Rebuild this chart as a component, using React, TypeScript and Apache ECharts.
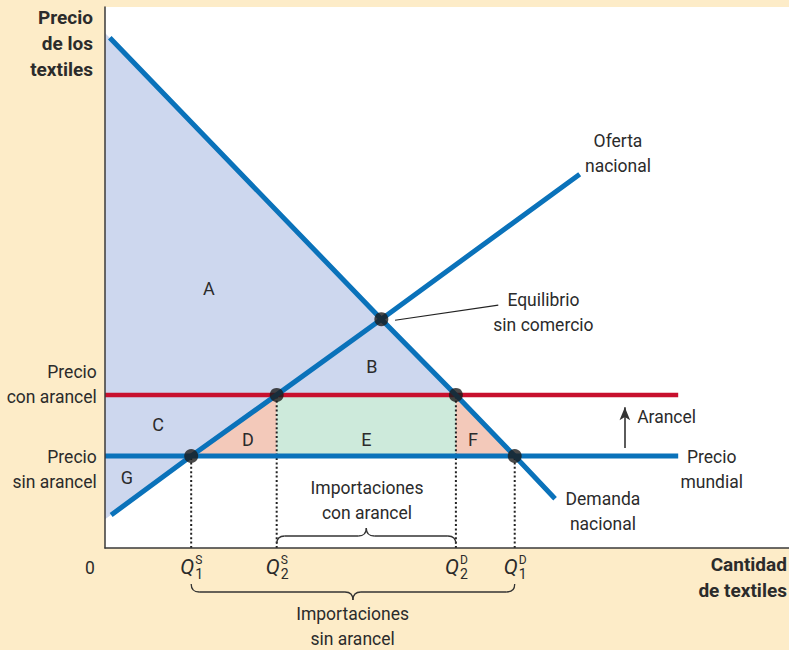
import React, { useEffect, useRef } from 'react';
import * as echarts from 'echarts';

// ---- Prices (vertical axis, 0..100) ----
const worldPrice = 17.0;
const tariffPrice = 28.3;
const equilibriumPrice = 42.3;

// ---- Quantities (horizontal axis, 0..100) ----
const q1S = 12.6;
const q2S = 25.1;
const qEq = 40.4;
const q2D = 51.3;
const q1D = 59.9;

// ---- Curves ----
const supplyCurve = [[0.9, 6.1], [q1S, worldPrice], [q2S, tariffPrice], [qEq, equilibriumPrice], [69.4, 69.1]];
const demandCurve = [[0.7, 94.3], [qEq, equilibriumPrice], [q2D, tariffPrice], [q1D, worldPrice], [65.8, 9.1]];
const priceLineEnd = 83.8;
const worldPriceLine = [[0, worldPrice], [priceLineEnd, worldPrice]];
const tariffPriceLine = [[0, tariffPrice], [priceLineEnd, tariffPrice]];
const demandAtZero = 95.2;
const supplyAtZero = 5.3;

// ---- Regions ----
const regionBlue = [[0, demandAtZero], [q2D, tariffPrice], [q2S, tariffPrice], [0, supplyAtZero]];
const regionD = [[q1S, worldPrice], [q2S, tariffPrice], [q2S, worldPrice]];
const regionE = [[q2S, tariffPrice], [q2D, tariffPrice], [q2D, worldPrice], [q2S, worldPrice]];
const regionF = [[q2D, tariffPrice], [q1D, worldPrice], [q2D, worldPrice]];

// ---- Marks ----
const keyPoints = [[q1S, worldPrice], [q2S, tariffPrice], [qEq, equilibriumPrice], [q2D, tariffPrice], [q1D, worldPrice]];
const dropLines = [[q1S, worldPrice], [q2S, tariffPrice], [q2D, tariffPrice], [q1D, worldPrice]];
const equilibriumLeader = [[42.4, 42.1], [57.5, 44.9]];
const tariffArrow = [[76.0, 18.5], [76.0, 26.0]];

// ---- Tick labels ----
const qLabels = [
  { q: q1S, sub: '1', sup: 'S' },
  { q: q2S, sub: '2', sup: 'S' },
  { q: q2D, sub: '2', sup: 'D' },
  { q: q1D, sub: '1', sup: 'D' },
];

const braces = [
  { from: q1S, to: q1D, side: 'below' },
  { from: q2S, to: q2D, side: 'above' },
];

const regionLetters = [
  { q: 15.2, p: 47.9, text: 'A' },
  { q: 39.0, p: 33.6, text: 'B' },
  { q: 7.75, p: 22.9, text: 'C' },
  { q: 20.9, p: 20.1, text: 'D' },
  { q: 38.2, p: 20.1, text: 'E' },
  { q: 53.8, p: 20.1, text: 'F' },
  { q: 3.2, p: 13.1, text: 'G' },
];

const annotations = [
  { q: 75.0, p: 73.0, text: 'Oferta\nnacional', align: 'center' },
  { q: 64.1, p: 43.5, text: 'Equilibrio\nsin comercio', align: 'center' },
  { q: 72.8, p: 6.75, text: 'Demanda\nnacional', align: 'center' },
  { q: 88.7, p: 14.6, text: 'Precio\nmundial', align: 'center' },
  { q: 77.8, p: 24.2, text: 'Arancel', align: 'left' },
  { q: 38.3, p: 8.8, text: 'Importaciones\ncon arancel', align: 'center' },
  { q: 36.2, p: -14.5, text: 'Importaciones\nsin arancel', align: 'center' },
  { q: -1.2, p: 30.3, text: 'Precio\ncon arancel', align: 'right' },
  { q: -1.2, p: 14.6, text: 'Precio\nsin arancel', align: 'right' },
  { q: -2.2, p: -3.7, text: '0', align: 'center' },
];

const axisTitles = [
  { q: -1.75, p: 93.3, text: 'Precio\nde los\ntextiles', align: 'right' },
  { q: 99.7, p: -5.4, text: 'Cantidad\nde textiles', align: 'right' },
];

const BLUE = '#0a72ba';
const RED = '#c8102e';
const TEXT = '#2b2b2b';
const FONT = 'Roboto';

const regions = [
  { points: regionBlue, color: '#cdd7ee' },
  { points: regionD, color: '#f3c9ba' },
  { points: regionE, color: '#cdeadb' },
  { points: regionF, color: '#f3c9ba' },
];

function textSeries(items: any[], size: number, weight: string, lineHeight: number, z: number) {
  return {
    type: 'custom',
    silent: true,
    clip: false,
    z,
    data: items.map((a) => [a.q, a.p]),
    renderItem: (params: any, api: any) => {
      const a = items[params.dataIndex];
      const pt = api.coord([a.q, a.p]);
      return {
        type: 'text',
        x: pt[0],
        y: pt[1],
        style: {
          text: a.text,
          fill: TEXT,
          fontSize: size,
          fontFamily: FONT,
          fontWeight: weight,
          align: a.align || 'center',
          verticalAlign: 'middle',
          lineHeight,
        },
      };
    },
  };
}

export default function App() {
  const ref = useRef<HTMLDivElement>(null);

  useEffect(() => {
    if (!ref.current) return;
    const chart = echarts.init(ref.current, null, { renderer: 'svg' });

    const axisCommon = {
      type: 'value',
      min: 0,
      max: 100,
      z: 10,
      axisLine: { show: true, onZero: false, lineStyle: { color: '#3a3a3a', width: 1.5 } },
      axisTick: { show: false },
      axisLabel: { show: false },
      splitLine: { show: false },
    };

    const dropSeries = dropLines.map((p) => ({
      type: 'line',
      silent: true,
      symbol: 'none',
      z: 3,
      data: [[p[0], 0], [p[0], p[1]]],
      lineStyle: { color: '#222', width: 2, type: [2, 2.4] },
    }));

    const option: any = {
      animation: false,
      backgroundColor: '#fdecc8',
      grid: { left: 105, right: 0, top: 7, bottom: 102, show: true, backgroundColor: '#ffffff', borderWidth: 0 },
      xAxis: axisCommon,
      yAxis: axisCommon,
      series: [
        {
          type: 'custom',
          silent: true,
          clip: false,
          z: 1,
          data: regions.map((_, i) => [i, 0]),
          renderItem: (params: any, api: any) => {
            const r = regions[params.dataIndex];
            return {
              type: 'polygon',
              shape: { points: r.points.map((p) => api.coord(p)) },
              style: { fill: r.color },
            };
          },
        },
        ...dropSeries,
        {
          type: 'line',
          silent: true,
          symbol: 'none',
          z: 4,
          data: worldPriceLine,
          lineStyle: { color: BLUE, width: 5 },
          markLine: {
            silent: true,
            animation: false,
            symbol: ['none', 'arrow'],
            symbolSize: [8, 13],
            label: { show: false },
            lineStyle: { color: '#333', width: 1.6, type: 'solid' },
            emphasis: { disabled: true },
            data: [[{ coord: tariffArrow[0] }, { coord: tariffArrow[1] }]],
          },
        },
        {
          type: 'line',
          silent: true,
          symbol: 'none',
          z: 4,
          data: tariffPriceLine,
          lineStyle: { color: RED, width: 4.5 },
        },
        {
          type: 'line',
          silent: true,
          symbol: 'none',
          z: 5,
          data: supplyCurve,
          lineStyle: { color: BLUE, width: 5 },
        },
        {
          type: 'line',
          silent: true,
          symbol: 'none',
          z: 5,
          data: demandCurve,
          lineStyle: { color: BLUE, width: 5 },
        },
        {
          type: 'line',
          silent: true,
          symbol: 'none',
          z: 5,
          data: equilibriumLeader,
          lineStyle: { color: '#222', width: 1.2 },
        },
        {
          type: 'scatter',
          silent: true,
          z: 6,
          symbol: 'circle',
          symbolSize: 14,
          itemStyle: { color: '#1b1b1b' },
          data: keyPoints,
        },
        {
          type: 'custom',
          silent: true,
          clip: false,
          z: 6,
          data: braces.map((b) => [b.from, 0]),
          renderItem: (params: any, api: any) => {
            const b = braces[params.dataIndex];
            const p1 = api.coord([b.from, 0]);
            const p2 = api.coord([b.to, 0]);
            const x1 = p1[0];
            const x2 = p2[0];
            const axisY = p1[1];
            const d = b.side === 'below' ? 1 : -1;
            const y0 = b.side === 'below' ? axisY + 36 : axisY - 4;
            const r = 8;
            const yh = y0 + d * r;
            const yt = y0 + 2 * d * r;
            const xm = (x1 + x2) / 2;
            const style = { stroke: '#333', lineWidth: 1.3, fill: 'none' };
            return {
              type: 'group',
              children: [
                { type: 'bezierCurve', shape: { x1: x1, y1: y0, cpx1: x1, cpy1: yh, x2: x1 + r, y2: yh }, style },
                { type: 'line', shape: { x1: x1 + r, y1: yh, x2: xm - r, y2: yh }, style },
                { type: 'bezierCurve', shape: { x1: xm - r, y1: yh, cpx1: xm, cpy1: yh, x2: xm, y2: yt }, style },
                { type: 'bezierCurve', shape: { x1: xm, y1: yt, cpx1: xm, cpy1: yh, x2: xm + r, y2: yh }, style },
                { type: 'line', shape: { x1: xm + r, y1: yh, x2: x2 - r, y2: yh }, style },
                { type: 'bezierCurve', shape: { x1: x2 - r, y1: yh, cpx1: x2, cpy1: yh, x2: x2, y2: y0 }, style },
              ],
            };
          },
        },
        {
          type: 'custom',
          silent: true,
          clip: false,
          z: 7,
          data: qLabels.map((l) => [l.q, 0]),
          renderItem: (params: any, api: any) => {
            const l = qLabels[params.dataIndex];
            const pt = api.coord([l.q, 0]);
            const x = pt[0];
            const y = pt[1];
            const base = { fill: TEXT, fontFamily: FONT, verticalAlign: 'middle' };
            return {
              type: 'group',
              children: [
                { type: 'text', x: x - 4, y: y + 19, style: { ...base, text: 'Q', fontSize: 21, fontStyle: 'italic', align: 'center' } },
                { type: 'text', x: x + 4, y: y + 12, style: { ...base, text: l.sup, fontSize: 12, align: 'left' } },
                { type: 'text', x: x + 4, y: y + 26, style: { ...base, text: l.sub, fontSize: 14, align: 'left' } },
              ],
            };
          },
        },
        textSeries(regionLetters, 18, 'normal', 20, 7),
        textSeries(annotations, 17.5, 'normal', 25, 7),
        textSeries(axisTitles, 19, 'bold', 26, 7),
      ],
    };

    chart.setOption(option);
    return () => chart.dispose();
  }, []);

  return <div ref={ref} style={{ position: 'fixed', left: 0, top: 0, width: 789, height: 650 }} />;
}
